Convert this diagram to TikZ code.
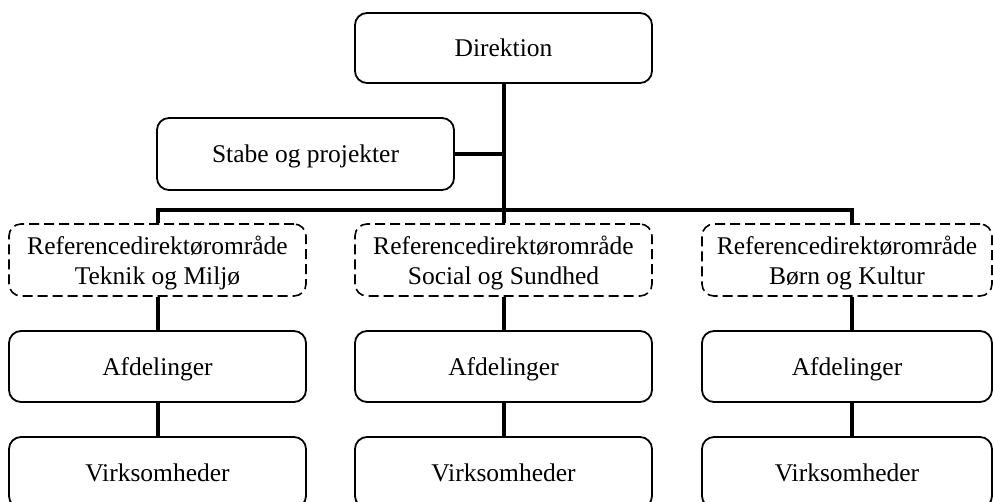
\documentclass[tikz,border=0pt]{standalone}
\usepackage{fontspec}
\setmainfont{Liberation Serif}
\begin{document}
\begin{tikzpicture}[x=1pt,y=-1pt,
  box/.style={draw=black, line width=1.8pt, rounded corners=12pt, minimum width=297pt,
    minimum height=71pt, inner sep=0pt, text depth=0pt, align=center, font=\fontsize{25.5}{30}\selectfont},
  refbox/.style={box, dash pattern=on 10pt off 5pt, line width=1.6pt, minimum height=72pt},
  conn/.style={line width=4pt}]
\clip (0,0) rectangle (993,502);
\fill[white] (0,0) rectangle (993,502);
\node[box, minimum height=70pt] (dir) at (503.5,48) {Direktion};
\node[box, minimum height=72pt] (stab) at (305.5,154) {Stabe og projekter};
\node[refbox] (ref1) at (157.5,260) {Referencedirektørområde\\Teknik og Miljø};
\node[refbox] (ref2) at (503.5,260) {Referencedirektørområde\\Social og Sundhed};
\node[refbox, minimum width=290pt] (ref3) at (847,260) {Referencedirektørområde\\Børn og Kultur};
\node[box] (afd1) at (157.5,366.5) {Afdelinger};
\node[box] (afd2) at (503.5,366.5) {Afdelinger};
\node[box, minimum width=290pt] (afd3) at (847,366.5) {Afdelinger};
\node[box] (virk1) at (157.5,472.5) {Virksomheder};
\node[box] (virk2) at (503.5,472.5) {Virksomheder};
\node[box, minimum width=290pt] (virk3) at (847,472.5) {Virksomheder};
\coordinate (r3top) at ([xshift=5pt]ref3.north);
\coordinate (r3bot) at ([xshift=5pt]ref3.south);
\coordinate (a3top) at ([xshift=5pt]afd3.north);
\coordinate (a3bot) at ([xshift=5pt]afd3.south);
\coordinate (v3top) at ([xshift=5pt]virk3.north);
\draw[conn] (dir.south) -- (ref2.north);
\draw[conn] (stab.east) -- (stab.east -| dir.south);
\draw[conn] (ref1.north) -- ++(0,-13) -| (r3top);
\draw[conn] (ref1.south) -- (afd1.north);
\draw[conn] (afd1.south) -- (virk1.north);
\draw[conn] (ref2.south) -- (afd2.north);
\draw[conn] (afd2.south) -- (virk2.north);
\draw[conn] (r3bot) -- (a3top);
\draw[conn] (a3bot) -- (v3top);
\end{tikzpicture}
\end{document}
